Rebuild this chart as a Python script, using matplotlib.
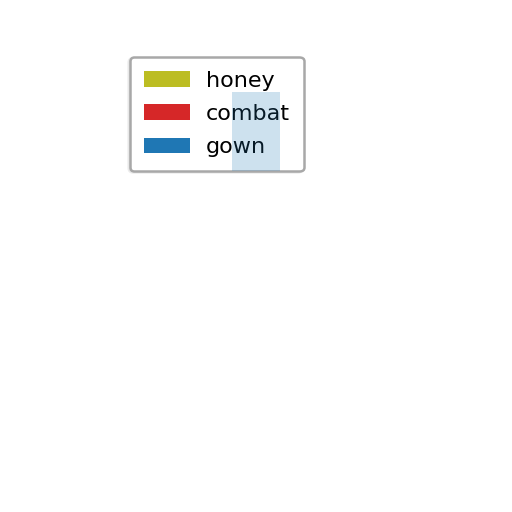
import matplotlib
matplotlib.use("Agg")
import matplotlib.pyplot as plt
from matplotlib.patches import Patch

# legend entries
series_names = ["honey", "combat", "gown"]
series_colors = ["#bcbd22", "#d62728", "#1f77b4"]

# the one visible shaded span (axes fraction units)
span_left = [0.453]
span_width = [0.094]
span_bottom = [0.666]
span_height = [0.154]

fig = plt.figure(figsize=(5.12, 5.12), dpi=100)
ax = fig.add_axes([0, 0, 1, 1])
ax.set_xlim(0, 1)
ax.set_ylim(0, 1)
ax.axis("off")

handles = [Patch(facecolor=c, label=n) for n, c in zip(series_names, series_colors)]
leg = ax.legend(handles=handles, loc="upper left", bbox_to_anchor=(0.254, 0.889),
                bbox_transform=fig.transFigure, borderaxespad=0, fontsize=16,
                labelspacing=0.6, handletextpad=0.7, borderpad=0.62,
                handlelength=2.1, fancybox=True,
                shadow={"ox": -1, "oy": -1, "color": "0.85"},
                framealpha=1.0, edgecolor="#a8a8a8")
leg.get_frame().set_linewidth(1.8)
leg.set_zorder(5)

ax.bar(span_left, span_height, width=span_width, bottom=span_bottom, align="edge",
       color="#1f77b4", alpha=0.22, linewidth=0, zorder=6)

fig.savefig("out.png", dpi=100)
